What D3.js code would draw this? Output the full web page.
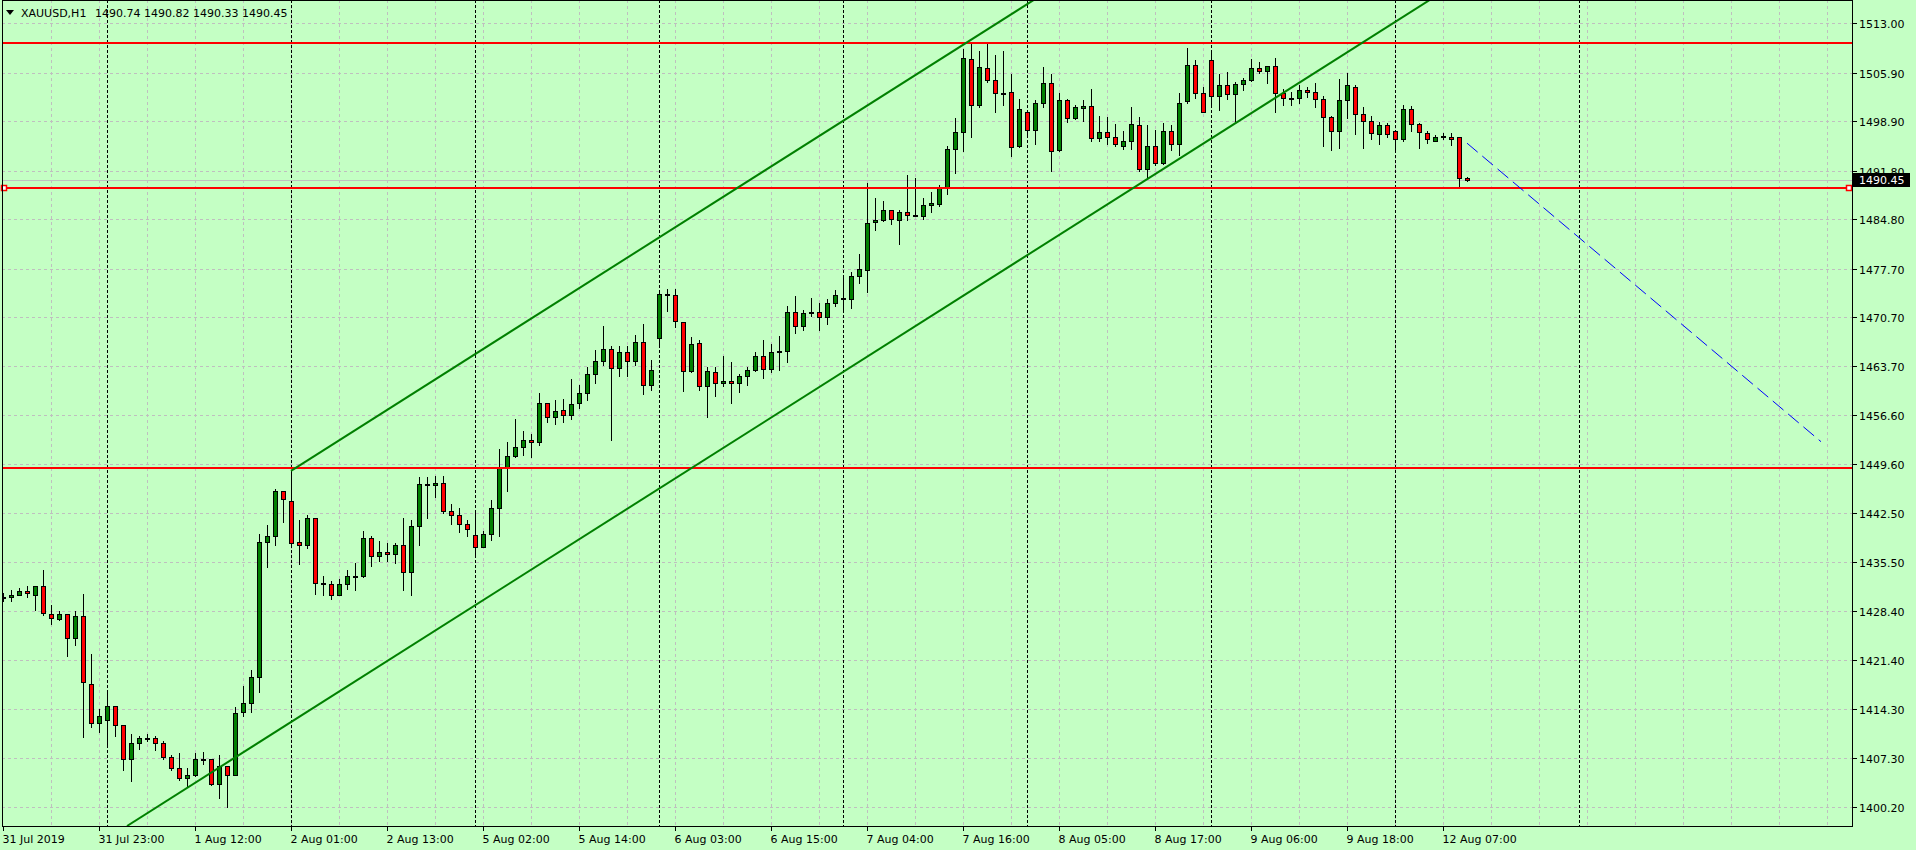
<!DOCTYPE html>
<html>
<head>
<meta charset="utf-8">
<script src="https://cdn.jsdelivr.net/npm/d3@7/dist/d3.min.js"></script>
<style>
  html, body { margin: 0; padding: 0; background: #c4ffc4; overflow: hidden; }
  svg { display: block; }
  text { font-family: "DejaVu Sans", sans-serif; font-size: 11px; }
</style>
</head>
<body>
<svg id="chart" width="1916" height="850"></svg>
<script>
// ---------------- DATA ----------------
const symbol = "XAUUSD,H1";

const opens = [
1430.4,1430.4,1430.8,1431.3,1430.8,1432.0,1428.0,1427.3,1428.0,1424.5,
1427.7,1418.0,1412.3,1412.7,1414.7,1412.1,1407.2,1409.4,1410.1,1410.1,
1409.4,1407.4,1405.9,1404.4,1404.8,1407.2,1407.1,1403.6,1406.1,1404.9,
1413.9,1415.2,1418.9,1438.3,1439.2,1445.7,1444.2,1438.3,1438.0,1441.8,
1432.4,1432.3,1430.8,1432.3,1433.4,1433.4,1439.0,1436.3,1436.9,1436.6,
1437.9,1434.1,1440.6,1446.7,1446.5,1446.8,1442.8,1442.3,1440.9,1439.3,
1437.7,1439.5,1443.2,1449.0,1450.8,1452.1,1453.0,1452.7,1458.3,1456.3,
1457.3,1456.7,1458.3,1459.8,1462.5,1464.4,1466.1,1463.4,1465.7,1464.4,
1467.2,1460.9,1467.7,1474.0,1473.9,1470.0,1462.9,1467.0,1460.8,1462.8,
1461.3,1461.6,1461.2,1462.2,1463.1,1465.1,1463.2,1465.7,1465.8,1471.4,
1469.4,1471.3,1471.5,1470.7,1472.7,1473.4,1473.3,1476.6,1477.5,1484.4,
1484.7,1486.1,1484.7,1485.9,1485.4,1485.2,1486.8,1487.0,1489.4,1494.9,
1497.3,1507.8,1501.2,1506.5,1504.9,1503.0,1503.1,1495.3,1500.3,1497.7,
1501.6,1504.4,1494.7,1501.9,1499.3,1500.8,1501.1,1496.5,1497.3,1496.6,
1495.4,1496.0,1498.3,1492.1,1495.3,1492.9,1497.5,1495.6,1501.8,1507.0,
1502.9,1507.7,1502.5,1504.1,1502.8,1504.2,1504.8,1506.5,1506.2,1506.8,
1503.0,1502.2,1502.3,1503.4,1503.1,1502.1,1499.5,1497.5,1501.9,1503.9,
1499.9,1498.9,1497.0,1498.3,1497.5,1496.3,1500.6,1498.5,1497.2,1496.1,
1496.8,1496.7,1496.6,1490.74];

const highs = [
1431.0,1431.5,1431.7,1432.0,1432.0,1434.4,1429.3,1428.5,1428.0,1428.5,
1430.9,1422.3,1414.4,1416.7,1414.7,1412.1,1410.7,1410.4,1410.7,1410.5,
1409.7,1407.7,1408.0,1405.8,1408.0,1408.1,1407.2,1407.7,1406.2,1414.6,
1417.7,1420.0,1439.5,1440.8,1446.0,1445.7,1448.6,1441.5,1442.2,1441.8,
1433.4,1432.7,1433.0,1434.4,1435.4,1440.0,1439.2,1438.5,1438.2,1438.2,
1441.8,1441.5,1447.7,1447.7,1447.8,1447.8,1443.8,1443.2,1441.5,1442.6,
1440.0,1444.4,1451.7,1452.7,1456.1,1454.3,1453.9,1459.8,1458.3,1458.8,
1458.9,1461.8,1461.0,1463.5,1466.0,1469.5,1466.5,1466.5,1466.5,1468.2,
1469.7,1464.6,1474.3,1474.7,1474.7,1470.0,1467.8,1467.4,1463.6,1463.5,
1465.1,1464.2,1462.6,1463.6,1465.7,1467.4,1466.9,1468.0,1472.3,1473.7,
1471.8,1473.5,1472.7,1473.3,1474.6,1476.4,1477.2,1479.8,1490.0,1487.8,
1487.4,1486.1,1486.1,1491.1,1490.8,1487.8,1488.7,1489.7,1495.3,1499.3,
1509.3,1510.3,1509.0,1510.1,1508.4,1509.0,1505.7,1502.1,1500.3,1501.9,
1506.7,1505.7,1502.9,1502.1,1501.2,1501.9,1503.6,1499.6,1499.5,1498.5,
1497.5,1501.0,1499.5,1498.3,1497.6,1498.6,1498.3,1502.9,1509.4,1507.7,
1503.9,1509.1,1505.7,1506.0,1504.5,1505.1,1507.8,1507.4,1506.9,1508.0,
1503.6,1503.1,1504.1,1503.8,1504.4,1502.5,1499.6,1505.0,1505.8,1504.1,
1500.9,1499.6,1498.8,1498.6,1497.6,1501.3,1501.1,1498.6,1497.5,1496.9,
1497.2,1497.2,1496.6,1490.82];

const lows = [
1429.9,1429.9,1430.7,1430.5,1428.6,1427.8,1426.5,1427.1,1421.9,1423.6,
1410.3,1411.7,1411.0,1409.3,1410.5,1405.5,1404.0,1408.6,1409.7,1408.5,
1407.2,1405.5,1404.1,1403.2,1404.7,1406.4,1403.4,1401.5,1400.3,1404.9,
1413.3,1413.9,1416.8,1434.7,1437.9,1441.2,1437.9,1435.2,1437.5,1430.9,
1430.8,1430.2,1430.8,1431.6,1431.4,1433.3,1434.9,1435.6,1435.6,1435.4,
1431.5,1430.8,1438.0,1441.8,1444.8,1442.5,1440.9,1439.8,1439.2,1436.3,
1437.7,1438.6,1439.2,1445.7,1450.6,1450.9,1450.6,1452.3,1455.7,1455.3,
1455.7,1456.1,1457.6,1458.8,1461.2,1463.9,1453.0,1462.2,1462.2,1463.9,
1459.6,1460.2,1466.7,1471.6,1469.3,1460.1,1462.8,1460.3,1456.3,1459.3,
1460.8,1458.3,1459.9,1460.9,1462.9,1461.9,1462.8,1463.1,1464.2,1468.4,
1468.9,1470.9,1468.9,1469.8,1472.3,1471.8,1472.1,1475.7,1474.4,1483.2,
1484.5,1484.1,1481.2,1484.7,1485.2,1484.9,1485.9,1486.7,1488.5,1491.4,
1494.6,1496.6,1500.9,1504.5,1500.3,1501.3,1493.9,1495.2,1496.7,1495.6,
1500.9,1491.7,1494.6,1498.8,1499.2,1498.9,1496.0,1496.0,1495.6,1495.4,
1494.9,1494.9,1491.8,1490.6,1492.6,1492.7,1494.7,1494.0,1501.6,1502.3,
1500.3,1501.1,1500.5,1502.1,1499.0,1503.4,1504.7,1505.9,1504.4,1500.3,
1501.3,1501.2,1501.6,1502.4,1501.0,1495.4,1494.7,1495.1,1499.3,1497.0,
1495.0,1496.4,1495.7,1496.6,1494.7,1496.0,1497.5,1495.1,1495.8,1496.0,
1496.4,1495.5,1489.4,1490.33];

const closes = [
1430.5,1430.8,1431.3,1431.0,1432.0,1428.1,1427.5,1428.0,1424.5,1427.7,
1418.2,1412.3,1413.3,1414.7,1412.1,1407.2,1409.4,1410.1,1410.0,1409.5,
1407.4,1405.8,1404.4,1404.8,1407.2,1407.2,1403.6,1406.1,1404.9,1413.7,
1415.2,1418.9,1438.3,1439.2,1445.7,1444.5,1438.2,1438.0,1441.8,1432.4,
1432.3,1430.8,1432.3,1433.4,1433.4,1439.0,1436.3,1436.9,1436.6,1437.9,
1434.1,1440.6,1446.7,1446.7,1446.8,1442.8,1442.3,1440.9,1440.3,1437.7,
1439.5,1443.2,1449.0,1450.8,1452.1,1453.0,1452.7,1458.3,1456.3,1457.2,
1456.7,1458.2,1459.8,1462.6,1464.4,1466.1,1463.4,1465.7,1464.4,1467.2,
1460.9,1463.1,1474.0,1473.9,1470.1,1462.9,1466.8,1460.8,1462.9,1461.3,
1461.6,1461.2,1462.2,1463.1,1465.1,1463.2,1465.7,1465.8,1471.4,1469.4,
1471.3,1471.4,1470.7,1472.7,1473.9,1473.3,1476.7,1477.6,1484.2,1484.7,
1486.1,1484.8,1485.9,1485.4,1485.4,1486.8,1487.1,1489.4,1494.9,1497.3,
1508.0,1501.2,1506.7,1504.9,1502.9,1503.0,1495.2,1500.6,1497.7,1501.6,
1504.4,1494.6,1501.9,1499.3,1500.9,1501.1,1496.5,1497.3,1496.6,1495.6,
1496.0,1498.5,1492.1,1495.3,1492.9,1497.5,1495.6,1501.6,1507.0,1502.9,
1500.3,1502.5,1504.1,1502.8,1504.2,1504.8,1506.5,1506.2,1506.8,1502.9,
1502.2,1502.2,1503.4,1503.1,1502.1,1499.5,1497.5,1501.9,1504.1,1499.9,
1498.9,1497.2,1498.3,1497.0,1496.4,1500.6,1498.5,1497.3,1496.3,1496.7,
1496.8,1496.4,1490.7,1490.45];

// time-axis labels, one every 12 bars starting at bar 0
const timeLabels = ["31 Jul 2019","31 Jul 23:00","1 Aug 12:00","2 Aug 01:00","2 Aug 13:00",
  "5 Aug 02:00","5 Aug 14:00","6 Aug 03:00","6 Aug 15:00","7 Aug 04:00","7 Aug 16:00",
  "8 Aug 05:00","8 Aug 17:00","9 Aug 06:00","9 Aug 18:00","12 Aug 07:00"];
const labelStep = 12;

// price axis labels
const priceTicks = [1513.00,1505.90,1498.90,1491.80,1484.80,1477.70,1470.70,1463.70,
  1456.60,1449.60,1442.50,1435.50,1428.40,1421.40,1414.30,1407.30,1400.20];

// day separators (bar index of each day's first bar)
const daySeparators = [13,36,59,82,105,128,151,174,197];

// horizontal levels
const redLevels = [1510.17, 1489.37, 1449.05];
const selectedLevel = 1489.37;

// channel (bar index, price)
const channelLower = [[15.5, 1397.5],[178.4, 1516.4]];
const channelUpper = [[36, 1448.6],[130, 1517.2]];
// projection
const projection = [[183.0, 1495.75],[227.25, 1452.8]];

const bidPrice = 1490.45;

// ---------------- LAYOUT ----------------
const W = 1916, H = 850;
const plotL = 2, plotR = 1852, plotT = 0, plotB = 826;
const svg = d3.select("#chart");

const x = d3.scaleLinear().domain([0, 231]).range([3, 1851]);
const y = d3.scaleLinear().domain([1397.5, 1516.35]).range([plotB, plotT]);

svg.append("rect").attr("width", W).attr("height", H).attr("fill", "#c4ffc4");

const defs = svg.append("defs");
defs.append("clipPath").attr("id", "plotClip").append("rect")
  .attr("x", plotL).attr("y", plotT).attr("width", plotR - plotL).attr("height", plotB - plotT);

const plot = svg.append("g").attr("clip-path", "url(#plotClip)");

// grid
const gridColor = "#bfbfbf";
const gridBars = d3.range(6, 232, 6);
plot.append("g").selectAll("line").data(gridBars).join("line")
  .attr("x1", d => Math.round(x(d)) + 0.5).attr("x2", d => Math.round(x(d)) + 0.5)
  .attr("y1", plotT).attr("y2", plotB)
  .attr("stroke", gridColor).attr("stroke-width", 1).attr("stroke-dasharray", "3,3");
plot.append("g").selectAll("line").data(priceTicks).join("line")
  .attr("x1", plotL).attr("x2", plotR)
  .attr("y1", d => Math.round(y(d)) + 0.5).attr("y2", d => Math.round(y(d)) + 0.5)
  .attr("stroke", gridColor).attr("stroke-width", 1).attr("stroke-dasharray", "3,3");

// day separators
plot.append("g").selectAll("line").data(daySeparators).join("line")
  .attr("x1", d => Math.round(x(d)) + 0.5).attr("x2", d => Math.round(x(d)) + 0.5)
  .attr("y1", plotT).attr("y2", plotB)
  .attr("stroke", "#000").attr("stroke-width", 1).attr("stroke-dasharray", "3,2");

// bid line
plot.append("line")
  .attr("x1", plotL).attr("x2", plotR)
  .attr("y1", Math.round(y(bidPrice)) + 0.5).attr("y2", Math.round(y(bidPrice)) + 0.5)
  .attr("stroke", "#c0c0c0").attr("stroke-width", 1);

// candles
const candles = opens.map((o, i) => ({i, o, h: highs[i], l: lows[i], c: closes[i]}));
const cg = plot.append("g");
candles.forEach(d => {
  const cx = Math.round(x(d.i)) + 0.5;
  cg.append("line")
    .attr("x1", cx).attr("x2", cx)
    .attr("y1", Math.round(y(d.h))).attr("y2", Math.round(y(d.l)) + 1)
    .attr("stroke", "#000").attr("stroke-width", 1);
  const yt = Math.round(y(Math.max(d.o, d.c)));
  const yb = Math.round(y(Math.min(d.o, d.c)));
  const hgt = Math.max(yb - yt, 1);
  cg.append("rect")
    .attr("x", cx - 2).attr("y", yt + 0.5)
    .attr("width", 4).attr("height", hgt)
    .attr("fill", d.c > d.o ? "#008000" : (d.c < d.o ? "#ff0000" : "#000"))
    .attr("stroke", "#000").attr("stroke-width", 1);
});

// red levels
plot.append("g").selectAll("line").data(redLevels).join("line")
  .attr("x1", plotL).attr("x2", plotR)
  .attr("y1", d => Math.round(y(d))).attr("y2", d => Math.round(y(d)))
  .attr("stroke", "#ff0000").attr("stroke-width", 2);

// channel lines
function rayPath(pts, extendLeft) {
  const [p0, p1] = pts;
  const slope = (p1[1] - p0[1]) / (p1[0] - p0[0]);
  const xEnd = 231;
  const yEnd = p0[1] + slope * (xEnd - p0[0]);
  return [[x(p0[0]), y(p0[1])], [x(xEnd), y(yEnd)]];
}
const lineGen = d3.line();
[channelLower, channelUpper].forEach(pts => {
  plot.append("path").attr("d", lineGen(rayPath(pts)))
    .attr("fill", "none").attr("stroke", "#008000").attr("stroke-width", 2);
});

// projection dashed line
plot.append("path")
  .attr("d", lineGen(projection.map(p => [x(p[0]), y(p[1])])))
  .attr("fill", "none").attr("stroke", "#0000ff").attr("stroke-width", 1)
  .attr("stroke-dasharray", "14,6");

// selection squares on the selected level
const ySel = Math.round(y(selectedLevel));
[plotL + 2, plotR - 3].forEach(px => {
  svg.append("rect").attr("x", px - 2.5).attr("y", ySel - 2.5).attr("width", 5).attr("height", 5)
    .attr("fill", "#fff").attr("stroke", "#ff0000").attr("stroke-width", 1.5);
});

// border
svg.append("rect").attr("x", plotL + 0.5).attr("y", plotT + 0.5)
  .attr("width", plotR - plotL).attr("height", plotB - plotT)
  .attr("fill", "none").attr("stroke", "#000").attr("stroke-width", 1);

// right price axis
const ra = svg.append("g");
priceTicks.forEach(v => {
  const yy = Math.round(y(v)) + 0.5;
  ra.append("line").attr("x1", plotR).attr("x2", plotR + 5).attr("y1", yy).attr("y2", yy)
    .attr("stroke", "#000");
  ra.append("text").attr("x", plotR + 7).attr("y", yy + 4).attr("fill", "#000")
    .text(v.toFixed(2));
});
// bid label
const yBid = Math.round(y(bidPrice));
svg.append("rect").attr("x", plotR + 1).attr("y", yBid - 7).attr("width", 57).attr("height", 14)
  .attr("fill", "#000");
svg.append("text").attr("x", plotR + 7).attr("y", yBid + 4).attr("fill", "#fff")
  .text(bidPrice.toFixed(2));

// bottom time axis
const ba = svg.append("g");
timeLabels.forEach((t, k) => {
  const xx = Math.round(x(k * labelStep)) + 0.5;
  ba.append("line").attr("x1", xx).attr("x2", xx).attr("y1", plotB).attr("y2", plotB + 5)
    .attr("stroke", "#000");
  ba.append("text").attr("x", xx - 1).attr("y", plotB + 17).attr("fill", "#000").text(t);
});

// header
const last = candles[candles.length - 1];
svg.append("path").attr("d", "M6,10 L14,10 L10,15 Z").attr("fill", "#000");
svg.append("text").attr("x", 21).attr("y", 17).attr("fill", "#000").text(symbol);
svg.append("text").attr("x", 95).attr("y", 17).attr("fill", "#000")
  .text([last.o, last.h, last.l, last.c].map(v => v.toFixed(2)).join(" "));
</script>
</body>
</html>
